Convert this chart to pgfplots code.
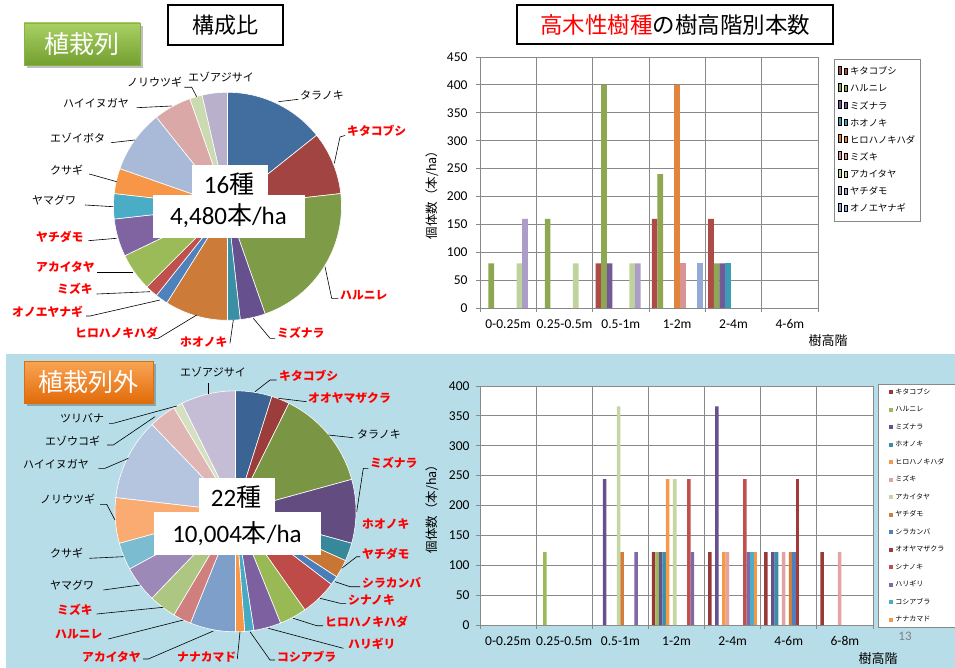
\documentclass[border=0pt]{standalone}
\usepackage{pgfplots}
\pgfplotsset{compat=1.18}
\usepackage{fontspec}
\setmainfont{Carlito}
\newfontfamily\jp{Noto Sans CJK JP}

\definecolor{gridc}{HTML}{898989}
\definecolor{bluebg}{HTML}{B7DDE8}
\definecolor{lred}{HTML}{FF0000}
\definecolor{gtop}{HTML}{AAD064}\definecolor{gbot}{HTML}{73A030}\definecolor{gbrd}{HTML}{8AB145}
\definecolor{otop}{HTML}{F9A555}\definecolor{obot}{HTML}{E26B0A}\definecolor{obrd}{HTML}{D8700F}
% top pie
\definecolor{pa01}{HTML}{416D9F}\definecolor{pa02}{HTML}{A14442}\definecolor{pa03}{HTML}{7E9B48}\definecolor{pa04}{HTML}{66508D}
\definecolor{pa05}{HTML}{3A8FA5}\definecolor{pa06}{HTML}{CD7B39}\definecolor{pa07}{HTML}{4F81BD}\definecolor{pa08}{HTML}{C0504D}
\definecolor{pa09}{HTML}{9BBB59}\definecolor{pa10}{HTML}{8064A2}\definecolor{pa11}{HTML}{4BACC6}\definecolor{pa12}{HTML}{F79646}
\definecolor{pa13}{HTML}{A9BAD9}\definecolor{pa14}{HTML}{D9A8A7}\definecolor{pa15}{HTML}{CCDAB1}\definecolor{pa16}{HTML}{B9B0CB}
% bottom pie
\definecolor{pb01}{HTML}{3B6494}\definecolor{pb02}{HTML}{9B3D3B}\definecolor{pb03}{HTML}{7A9645}\definecolor{pb04}{HTML}{624C80}
\definecolor{pb05}{HTML}{37889B}\definecolor{pb06}{HTML}{C87633}\definecolor{pb07}{HTML}{4A7EBB}\definecolor{pb08}{HTML}{BE4B48}
\definecolor{pb09}{HTML}{98B954}\definecolor{pb10}{HTML}{7D60A0}\definecolor{pb11}{HTML}{46AAC5}\definecolor{pb12}{HTML}{F79646}
\definecolor{pb13}{HTML}{7F9FCB}\definecolor{pb14}{HTML}{CF7F7D}\definecolor{pb15}{HTML}{ADC682}\definecolor{pb16}{HTML}{9C89B7}
\definecolor{pb17}{HTML}{7BBCD1}\definecolor{pb18}{HTML}{F9AB72}\definecolor{pb19}{HTML}{B5C5E0}\definecolor{pb20}{HTML}{E0B6B5}
\definecolor{pb21}{HTML}{D5E0C0}\definecolor{pb22}{HTML}{C5BDD6}
% top bars
\definecolor{ba1}{HTML}{AE4A47}\definecolor{ba2}{HTML}{8DA851}\definecolor{ba3}{HTML}{735996}\definecolor{ba4}{HTML}{3D9CB5}
\definecolor{ba5}{HTML}{E2843C}\definecolor{ba6}{HTML}{D89593}\definecolor{ba7}{HTML}{BED49C}\definecolor{ba8}{HTML}{AB9DC6}
\definecolor{ba9}{HTML}{94AAD6}
% bottom bars
\definecolor{bb01}{HTML}{973937}\definecolor{bb02}{HTML}{9BBB59}\definecolor{bb03}{HTML}{68508E}\definecolor{bb04}{HTML}{3B8FA5}
\definecolor{bb05}{HTML}{F8994A}\definecolor{bb06}{HTML}{E4A2A0}\definecolor{bb07}{HTML}{C4D7A3}\definecolor{bb08}{HTML}{D27F3D}
\definecolor{bb09}{HTML}{4F7FBE}\definecolor{bb10}{HTML}{A03B3A}\definecolor{bb11}{HTML}{C0504D}\definecolor{bb12}{HTML}{8266A5}
\definecolor{bb13}{HTML}{4BACC6}\definecolor{bb14}{HTML}{F79646}

\newcommand\lb[3]{\node[anchor=west, inner sep=0pt] at (#1,#2) {\jp\fontsize{11}{12}\selectfont #3};}
\newcommand\lr[3]{\node[anchor=west, inner sep=0pt, text=lred] at (#1,#2) {\jp\bfseries\fontsize{11.8}{13}\selectfont #3};}

\pgfplotsset{
  barchart/.style={
    scale only axis,
    axis x line*=bottom, axis y line*=left,
    axis line style={-, draw=gridc, line width=0.8pt},
    xminorgrids=true, ymajorgrids=true,
    grid style={draw=gridc, line width=0.8pt},
    minor grid style={draw=gridc, line width=0.8pt},
    tick align=outside,
    major x tick style={draw=none},
    major tick length=4pt, minor tick length=4pt,
    tick style={draw=gridc, line width=0.8pt},
    /pgf/number format/assume math mode=true,
    ticklabel style={font=\fontsize{13.5}{15}\selectfont, text=black},
    xticklabel style={yshift=-4pt},
    legend cell align=left,
    legend image code/.code={\fill[##1, draw=none] (0pt,-2.8pt) rectangle (5.6pt,2.8pt);},
  }
}

\begin{document}
\begin{tikzpicture}
\path[use as bounding box] (0pt,0pt) rectangle (955pt,-668pt);
\fill[white] (0pt,0pt) rectangle (955pt,-668pt);
\fill[bluebg] (6pt,-354pt) rectangle (955pt,-668pt);

\begin{scope}[x=1pt,y=-1pt]
% buttons
\fill[black, opacity=0.25] (27,26) rectangle (143,68);
\shade[top color=gtop, bottom color=gbot, draw=gbrd, line width=0.6pt] (24,23) rectangle (140,65);
\node[text=white] at (82,44) {\jp\fontsize{25}{28}\selectfont 植栽列};
\fill[black, opacity=0.25] (27,364) rectangle (156,406);
\shade[top color=otop, bottom color=obot, draw=obrd, line width=0.6pt] (24,361) rectangle (153,403);
\node[text=white] at (88.5,382) {\jp\fontsize{25}{28}\selectfont 植栽列外};
% titles
\draw[black, line width=2pt] (168,5) rectangle (283,45);
\node at (225.5,25) {\jp\fontsize{22}{24}\selectfont 構成比};
\draw[black, line width=2pt] (517,5) rectangle (833,44);
\node at (675,24.5) {\jp\fontsize{22.5}{24}\selectfont \textcolor{lred}{高木性樹種}の樹高階別本数};
\end{scope}

% ---------- top pie ----------
\begin{axis}[at={(113.5pt,-320.3pt)}, anchor=south west, x=114pt, y=114pt,
  xmin=-1, xmax=1, ymin=-1, ymax=1, hide axis, clip=false]
\pgfplotsextra{%
  \gdef\acc{90}%
  \foreach \n/\c in {8/pa01,5/pa02,12/pa03,2/pa04,1/pa05,5/pa06,1/pa07,1/pa08,3/pa09,3/pa10,2/pa11,2/pa12,5/pa13,3/pa14,1/pa15,2/pa16}{%
    \pgfmathsetmacro\endang{\acc-360*\n/56}%
    \fill[\c, draw=white, line width=0.6pt] (axis cs:0,0) -- ++(\acc:114pt) arc[start angle=\acc, end angle=\endang, radius=114pt] -- cycle;%
    \global\let\acc\endang
  }%
}
\end{axis}

% ---------- bottom pie ----------
\begin{axis}[at={(115pt,-631.8pt)}, anchor=south west, x=120.5pt, y=120.5pt,
  xmin=-1, xmax=1, ymin=-1, ymax=1, hide axis, clip=false]
\pgfplotsextra{%
  \gdef\acc{90}%
  \foreach \n/\c in {4/pb01,2/pb02,11/pb03,7/pb04,2/pb05,2/pb06,1/pb07,4/pb08,3/pb09,3/pb10,1/pb11,1/pb12,5/pb13,2/pb14,3/pb15,4/pb16,3/pb17,5/pb18,9/pb19,3/pb20,1/pb21,6/pb22}{%
    \pgfmathsetmacro\endang{\acc-360*\n/82}%
    \fill[\c, draw=white, line width=0.6pt] (axis cs:0,0) -- ++(\acc:120.5pt) arc[start angle=\acc, end angle=\endang, radius=120.5pt] -- cycle;%
    \global\let\acc\endang
  }%
}
\end{axis}

\begin{scope}[x=1pt,y=-1pt]
% center boxes
\fill[white] (192,165) rectangle (268,195);
\fill[white] (153,195) rectangle (305,238);
\node at (229,184) {\fontsize{25}{28}\selectfont 16{\jp 種}};
\node at (228.5,216) {\fontsize{25}{28}\selectfont 4,480{\jp 本}/ha};
\fill[white] (199,478) rectangle (275,512);
\fill[white] (154,512) rectangle (321,555);
\node at (236,497.5) {\fontsize{25}{28}\selectfont 22{\jp 種}};
\node at (237,533.5) {\fontsize{25}{28}\selectfont 10,004{\jp 本}/ha};

% top pie labels
\begin{scope}[line width=0.6pt]
\draw (278.3,101.7) -- (298.3,99.3);
\draw (334.3,163.3) -- (340,137) -- (345,135.5);
\draw (325,266.7) -- (331.7,298.3) -- (338.3,298.3);
\draw (253.3,318.3) -- (270,338.3) -- (275,338.3);
\draw (233.3,320) -- (230,343.3);
\draw (196.7,315) -- (158.3,338.3) -- (153.3,338.3);
\draw (160,300) -- (90,316) -- (86,316);
\draw (150,291.7) -- (96.7,294);
\draw (133.3,272.7) -- (96.7,272.7);
\draw (116.7,238.3) -- (88.3,240.7);
\draw (113.3,206.7) -- (85,205);
\draw (116.7,181.7) -- (89.3,174);
\draw (135,140) -- (111,142.7);
\draw (171.7,106) -- (136.7,107.7);
\draw (196.7,96.7) -- (191.7,87.3) -- (184.3,87.3);
\end{scope}
\lb{300}{95.5}{タラノキ}
\lr{347}{131}{キタコブシ}
\lr{340}{295}{ハルニレ}
\lr{277}{333}{ミズナラ}
\lr{180}{342}{ホオノキ}
\lr{75}{333}{ヒロハノキハダ}
\lr{12}{312}{オノエヤナギ}
\lr{57}{289}{ミズキ}
\lr{36}{267}{アカイタヤ}
\lr{36}{237}{ヤチダモ}
\lb{32}{200}{ヤマグワ}
\lb{50}{170}{クサギ}
\lb{50}{138}{エゾイボタ}
\lb{63}{103}{ハイイヌガヤ}
\lb{127}{82}{ノリウツギ}
\lb{188}{77}{エゾアジサイ}

% bottom pie labels
\begin{scope}[line width=0.6pt]
\draw (208.3,383.3) -- (208.3,394.3);
\draw (255,391.7) -- (270,380) -- (276.7,380);
\draw (278.3,398.3) -- (306.7,401.7);
\draw (328.3,435) -- (353.3,437.7);
\draw (356.7,511.7) -- (363.3,468.3) -- (368.3,468.3);
\draw (341.7,568.3) -- (356.7,556.7) -- (360,556.7);
\draw (335,581.7) -- (350,586.7) -- (360,586.7);
\draw (320,598.3) -- (340,603.3) -- (346,603.3);
\draw (293.3,618.3) -- (316.7,625.7) -- (323,625.7);
\draw (268.3,628.3) -- (343.3,648.3);
\draw (250,631.7) -- (270,660) -- (275,660);
\draw (240,631.7) -- (237.3,659);
\draw (213.3,631) -- (148.3,659) -- (143,659);
\draw (183.3,620) -- (108.3,639);
\draw (163.3,607.3) -- (96.7,614);
\draw (140,585) -- (103.3,590);
\draw (123.3,556.7) -- (89.3,558.3);
\draw (115,520) -- (106.7,504.3) -- (100,504.3);
\draw (128.3,458.3) -- (105,468.3) -- (98.3,468.3);
\draw (155,416.7) -- (113.3,445) -- (107,445);
\draw (176.7,406) -- (113.3,423.3) -- (109,423.3);
\end{scope}
\lb{180}{372.3}{エゾアジサイ}
\lr{279}{375.7}{キタコブシ}
\lr{308}{397.7}{オオヤマザクラ}
\lb{357}{434}{タラノキ}
\lr{370}{463.3}{ミズナラ}
\lr{362}{524.3}{ホオノキ}
\lr{362}{554.3}{ヤチダモ}
\lr{362}{583.3}{シラカンバ}
\lr{348}{600}{シナノキ}
\lr{325}{621.7}{ヒロハノキハダ}
\lr{348}{644.3}{ハリギリ}
\lr{277}{656.7}{コシアブラ}
\lr{177}{656.7}{ナナカマド}
\lr{82}{656.7}{アカイタヤ}
\lr{55}{634.3}{ハルニレ}
\lr{57}{610}{ミズキ}
\lb{50}{585}{ヤマグワ}
\lb{50}{553.3}{クサギ}
\lb{40}{499}{ノリウツギ}
\lb{23}{464.3}{ハイイヌガヤ}
\lb{45}{441}{エゾウコギ}
\lb{60}{418.3}{ツリバナ}

% axis titles
\node[rotate=90] at (432,192) {\jp\fontsize{12.5}{14}\selectfont 個体数（本/ha）};
\node[rotate=90] at (432,506) {\jp\fontsize{12.5}{14}\selectfont 個体数（本/ha）};
\node at (828,341) {\jp\fontsize{13}{15}\selectfont 樹高階};
\node at (878,659) {\jp\fontsize{13}{15}\selectfont 樹高階};
\node[text=gray] at (905,636) {\fontsize{13}{15}\selectfont 13};
\end{scope}

% ---------- top bar chart ----------
\begin{axis}[barchart,
  at={(480pt,-308pt)}, anchor=south west,
  width=338pt, height=251pt,
  xmin=-0.5, xmax=5.5, ymin=0, ymax=450,
  ytick={0,50,...,450},
  xtick={0,1,2,3,4,5},
  xticklabels={0-0.25m,0.25-0.5m,0.5-1m,1-2m,2-4m,4-6m},
  minor xtick={-0.5,0.5,1.5,2.5,3.5,4.5,5.5},
  yticklabel style={xshift=-5pt},
  ybar=0pt, bar width=5.63pt,
  legend style={at={(1.0473,0.992)}, anchor=north west, draw=gridc, line width=0.8pt,
    font=\jp\fontsize{9.3}{10}\selectfont, row sep=4.7pt, column sep=1pt,
    inner xsep=3.5pt, inner ysep=6.5pt,
    nodes={inner sep=1.5pt, text height=7pt, text depth=2pt}},
]
\addplot[fill=ba1, draw=none] coordinates {(2,80) (3,160) (4,160)};
\addplot[fill=ba2, draw=none] coordinates {(0,80) (1,160) (2,400) (3,240) (4,80)};
\addplot[fill=ba3, draw=none] coordinates {(2,80) (4,80)};
\addplot[fill=ba4, draw=none] coordinates {(4,80)};
\addplot[fill=ba5, draw=none] coordinates {(3,400)};
\addplot[fill=ba6, draw=none] coordinates {(3,80)};
\addplot[fill=ba7, draw=none] coordinates {(0,80) (1,80) (2,80)};
\addplot[fill=ba8, draw=none] coordinates {(0,160) (2,80)};
\addplot[fill=ba9, draw=none] coordinates {(3,80)};
\legend{キタコブシ,ハルニレ,ミズナラ,ホオノキ,ヒロハノキハダ,ミズキ,アカイタヤ,ヤチダモ,オノエヤナギ}
\end{axis}

% ---------- bottom bar chart ----------
\begin{axis}[barchart,
  at={(480pt,-625pt)}, anchor=south west,
  width=393pt, height=239pt,
  axis background/.style={fill=white},
  xmin=-0.5, xmax=6.5, ymin=0, ymax=400,
  ytick={0,50,...,400},
  xtick={0,1,2,3,4,5,6},
  xticklabels={0-0.25m,0.25-0.5m,0.5-1m,1-2m,2-4m,4-6m,6-8m},
  minor xtick={-0.5,0.5,1.5,2.5,3.5,4.5,5.5,6.5},
  yticklabel style={xshift=-3pt},
  ybar=0pt, bar width=3.51pt,
  legend style={at={(1.0127,1.0084)}, anchor=north west, draw=gridc, line width=0.8pt, fill=white,
    font=\jp\fontsize{7}{8}\selectfont, row sep=8.5pt, column sep=1pt,
    inner xsep=11pt, inner ysep=3.2pt,
    nodes={inner sep=1pt, text height=5.5pt, text depth=1.5pt}},
  legend image code/.code={\fill[#1, draw=none] (0pt,-2pt) rectangle (4pt,2pt);},
]
\addplot[fill=bb01, draw=none] coordinates {(3,122) (4,122) (5,122) (6,122)};
\addplot[fill=bb02, draw=none] coordinates {(1,122) (3,122)};
\addplot[fill=bb03, draw=none] coordinates {(2,244) (3,122) (4,366) (5,122)};
\addplot[fill=bb04, draw=none] coordinates {(3,122) (5,122)};
\addplot[fill=bb05, draw=none] coordinates {(3,244) (4,122)};
\addplot[fill=bb06, draw=none] coordinates {(4,122) (5,122) (6,122)};
\addplot[fill=bb07, draw=none] coordinates {(2,366) (3,244)};
\addplot[fill=bb08, draw=none] coordinates {(2,122) (5,122)};
\addplot[fill=bb09, draw=none] coordinates {(5,122)};
\addplot[fill=bb10, draw=none] coordinates {(5,244)};
\addplot[fill=bb11, draw=none] coordinates {(3,244) (4,244)};
\addplot[fill=bb12, draw=none] coordinates {(2,122) (3,122) (4,122)};
\addplot[fill=bb13, draw=none] coordinates {(4,122)};
\addplot[fill=bb14, draw=none] coordinates {(4,122)};
\legend{キタコブシ,ハルニレ,ミズナラ,ホオノキ,ヒロハノキハダ,ミズキ,アカイタヤ,ヤチダモ,シラカンバ,オオヤマザクラ,シナノキ,ハリギリ,コシアブラ,ナナカマド}
\end{axis}
\end{tikzpicture}
\end{document}
